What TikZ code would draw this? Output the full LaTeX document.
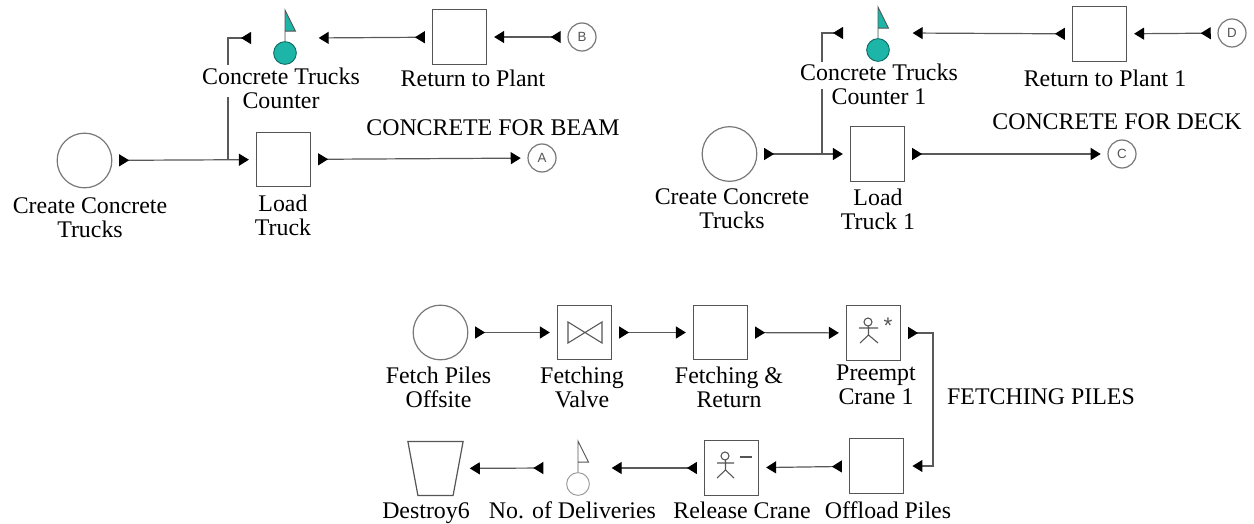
\documentclass[tikz,border=0pt]{standalone}
\usepackage{fontspec}
\setmainfont{Liberation Serif}
\newfontfamily\sansf{Liberation Sans}
\usetikzlibrary{arrows.meta}
\definecolor{teal1}{HTML}{1DB5A8}
\definecolor{edge}{HTML}{555555}
\tikzset{
 x=0.75pt,y=-0.75pt,
 box/.style={draw=edge,line width=0.9pt,rectangle,minimum width=41pt,minimum height=41pt,inner sep=0pt},
 create/.style={draw=edge!80,line width=0.9pt,circle,minimum size=41pt,inner sep=0pt},
 conn/.style={draw=edge!80,line width=0.9pt,circle,minimum size=21pt,inner sep=0pt,font=\sansf\fontsize{10}{10}\selectfont,text=edge},
 lbl/.style={font=\fontsize{17.9}{18}\selectfont,align=center,inner sep=0pt,text=black},
 flow/.style={draw=black!65,line width=0.9pt,{Triangle[reversed,length=7.5pt,width=9pt,black]}-{Triangle[length=7.5pt,width=9pt,black]},shorten <=5pt,shorten >=5pt},
 branch/.style={draw=black!65,line width=0.9pt,{Triangle[reversed,length=7.5pt,width=9pt,black]}-},
 icon/.style={draw=edge,line width=0.8pt},
}
\newcommand{\counterflag}[4]{% x, y of circle centre, fill, name
 \node[circle,draw=#3!60!black,fill=#3,minimum size=17pt,inner sep=0pt,line width=0.7pt] (#4) at (#1,#2) {};
 \draw[draw=edge,fill=#3,line width=0.7pt] (#4.north) -- ++(0,-31) -- ++(10.5,21) -- ++(-10.5,0);
}
\begin{document}
\begin{tikzpicture}
\useasboundingbox (0,0) rectangle (1254,524);
% ---- left group
\node[create] (c1) at (84.5,160.5) {};
\node[box] (l1) at (283.5,159.5) {};
\node[box] (r1) at (459.5,37) {};
\node[conn] (A) at (542,158) {A};
\node[conn] (B) at (582,37) {B};
\counterflag{285}{53}{teal1}{k1}
\coordinate (j1) at (228,160);
\coordinate (p1) at (251,38);
\coordinate (q1) at (312,38);
\draw[flow] (c1) -- (l1);
\draw[flow] (l1) -- (A);
\draw[flow] (r1) -- (q1);
\draw[flow] (B) -- (r1);
\draw[branch] (p1) -- (j1 |- p1) -- (j1);
\fill[white] (200,65) rectangle (362,97);
\node[lbl] at (281,88) {Concrete Trucks\\Counter};
\node[lbl] at (473,78) {Return to Plant};
\node[lbl] at (493,128) {CONCRETE FOR BEAM};
\node[lbl] at (90,217.5) {Create Concrete\\Trucks};
\node[lbl] at (283,215.5) {Load\\Truck};
% ---- right group
\node[create] (c2) at (729.5,154) {};
\node[box] (l2) at (877.5,154) {};
\node[box] (r2) at (1099.5,34) {};
\node[conn] (C) at (1122,154) {C};
\node[conn] (D) at (1232,33) {D};
\counterflag{878}{50}{teal1}{k2}
\coordinate (j2) at (822,154);
\coordinate (p2) at (843,33);
\coordinate (q2) at (906,33);
\draw[flow] (c2) -- (l2);
\draw[flow] (l2) -- (C);
\draw[flow] (r2) -- (q2);
\draw[flow] (D) -- (r2);
\draw[branch] (p2) -- (j2 |- p2) -- (j2);
\fill[white] (800,62) rectangle (960,89);
\node[lbl] at (879,84) {Concrete Trucks\\Counter 1};
\node[lbl] at (1105,78) {Return to Plant 1};
\node[lbl] at (1117,122) {CONCRETE FOR DECK};
\node[lbl] at (732,209) {Create Concrete\\Trucks};
\node[lbl] at (878,209) {Load\\Truck 1};
% ---- bottom group
\node[create] (f) at (440.5,332.5) {};
\node[box] (v) at (584.5,332.5) {};
\node[box] (g) at (720.5,332.5) {};
\node[box] (p) at (873.5,333) {};
\node[box] (o) at (876.5,466) {};
\node[box] (e) at (731.5,468) {};
\counterflag{578}{484}{white}{k3}
\node[minimum width=41pt,minimum height=40pt,inner sep=0pt] (d) at (435.5,468.5) {};
\draw[draw=edge,line width=0.9pt] (d.north west) -- (d.north east) -- ([xshift=-7.5pt]d.south east) -- ([xshift=7.5pt]d.south west) -- cycle;
\coordinate (q3) at (605,468);
\coordinate (s3) at (550,468);
\coordinate (t) at (933,333);
\draw[flow] (f) -- (v);
\draw[flow] (v) -- (g);
\draw[flow] (g) -- (p);
\draw[flow,shorten >=6pt] (p.east) -- (t) -- (t |- o) -- (o.east);
\draw[flow] (o) -- (e);
\draw[flow] (e) -- (q3);
\draw[flow] (s3) -- (d);
% icons
\draw[icon] (568,322)--(568,343)--(602,322)--(602,343)--cycle;
\draw[icon] (868,322) circle (4);
\draw[icon] (859,328)--(878,328) (868.5,326)--(868.5,335) (860,343)--(868.5,335)--(878,343);
\node[inner sep=0pt,font=\sansf\fontsize{17}{17}\selectfont,text=edge] at (888,326) {*};
\draw[icon] (725,456) circle (4);
\draw[icon] (717,463)--(734,463) (725.5,460)--(725.5,470) (717,478)--(725.5,470)--(734,478);
\draw[icon] (740,457)--(752,457);
\node[lbl] at (438.5,387) {Fetch Piles\\Offsite};
\node[lbl] at (582,387) {Fetching\\Valve};
\node[lbl] at (729,387) {Fetching \&\\Return};
\node[lbl] at (876,385) {Preempt\\Crane 1};
\node[lbl] at (1041,397) {FETCHING PILES};
\node[lbl,anchor=base] at (426,518) {Destroy6};
\node[lbl,anchor=base] at (572.5,518) {No. of Deliveries};
\node[lbl,anchor=base] at (742,518) {Release Crane};
\node[lbl,anchor=base] at (888,518) {Offload Piles};
\end{tikzpicture}
\end{document}
